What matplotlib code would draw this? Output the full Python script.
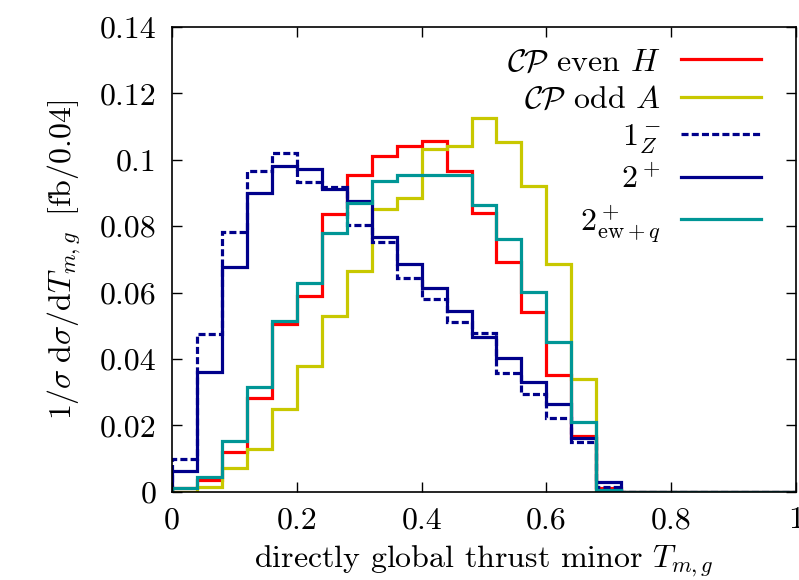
import matplotlib
matplotlib.use("Agg")
import matplotlib.pyplot as plt
import numpy as np
from matplotlib.ticker import FormatStrFormatter, MultipleLocator

plt.rcParams['mathtext.fontset'] = 'cm'
plt.rcParams['font.family'] = 'serif'
plt.rcParams['font.serif'] = ['cmr10', 'DejaVu Serif']
plt.rcParams['axes.unicode_minus'] = False
plt.rcParams['axes.formatter.use_mathtext'] = True

# bin edges, width 0.04 from 0 to 1
edges = np.linspace(0, 1, 26)

cp_even_h = [0.001, 0.0035, 0.012, 0.0283, 0.0505, 0.059, 0.0837, 0.0955, 0.1012, 0.1043,
             0.1058, 0.0965, 0.0839, 0.0693, 0.054, 0.0352, 0.0169, 0.001,
             0, 0, 0, 0, 0, 0, 0]
cp_odd_a = [0.0, 0.0015, 0.007, 0.0129, 0.0249, 0.038, 0.053, 0.0666, 0.0851, 0.0885,
            0.1033, 0.1042, 0.1126, 0.1053, 0.0922, 0.0686, 0.0339, 0.0,
            0, 0, 0, 0, 0, 0, 0]
one_z = [0.0098, 0.0475, 0.0783, 0.0967, 0.1021, 0.0932, 0.0917, 0.0804, 0.0752, 0.0645,
         0.0582, 0.051, 0.0477, 0.0357, 0.0294, 0.0221, 0.0149, 0.0015,
         0, 0, 0, 0, 0, 0, 0]
two_plus = [0.0062, 0.0362, 0.0677, 0.090, 0.0982, 0.0973, 0.0912, 0.0876, 0.0767, 0.0686,
            0.0615, 0.0545, 0.0467, 0.0402, 0.033, 0.0263, 0.0163, 0.0029,
            0, 0, 0, 0, 0, 0, 0]
two_ewq = [0.001, 0.0043, 0.0153, 0.0314, 0.0513, 0.063, 0.078, 0.0869, 0.0935, 0.0953,
           0.0953, 0.0953, 0.0864, 0.0761, 0.0603, 0.0452, 0.0211, 0.0005,
           0, 0, 0, 0, 0, 0, 0]

labels = [r'$\mathcal{CP}$ even $H$', r'$\mathcal{CP}$ odd $A$', r'$1^-_Z$', r'$2^+$',
          r'$2^+_{\mathrm{ew}+q}$']

fs = 23

fig = plt.figure(figsize=(7.99, 5.8), dpi=100)
ax = fig.add_axes([0.2153, 0.1522, 0.7809, 0.8012])

lw = 2.3
ax.stairs(cp_even_h, edges, color='#ff0000', lw=lw, label=labels[0])
ax.stairs(cp_odd_a, edges, color='#c8c800', lw=lw, label=labels[1])
ax.stairs(one_z, edges, color='#00008b', lw=lw, ls=(0, (2.2, 1.0)), label=labels[2])
ax.stairs(two_plus, edges, color='#00008b', lw=lw, label=labels[3])
ax.stairs(two_ewq, edges, color='#009696', lw=lw, label=labels[4])

ax.set_xlim(0, 1)
ax.set_ylim(0, 0.14)
ax.xaxis.set_major_locator(MultipleLocator(0.2))
ax.yaxis.set_major_locator(MultipleLocator(0.02))
ax.xaxis.set_major_formatter(FormatStrFormatter('%g'))
ax.yaxis.set_major_formatter(FormatStrFormatter('%g'))
ax.tick_params(direction='in', top=True, right=True, length=7, width=1,
               labelsize=fs)
ax.tick_params(axis='x', pad=11)
ax.tick_params(axis='y', pad=11)
for sp in ax.spines.values():
    sp.set_linewidth(1.2)

ax.set_xlabel(r'directly global thrust minor $T_{m,g}$', fontsize=fs, labelpad=7)
ax.set_ylabel(r'$1/\sigma\;\mathrm{d}\sigma/\mathrm{d}T_{m,g}\;\;[\mathrm{fb}/0.04]$',
              fontsize=fs, labelpad=12)

ax.legend(loc='upper right', bbox_to_anchor=(0.944, 0.955), frameon=False,
          markerfirst=False, fontsize=fs, handlelength=2.5, handletextpad=0.65,
          borderpad=0, borderaxespad=0, labelspacing=0.28)

fig.savefig('out.png', dpi=100)
